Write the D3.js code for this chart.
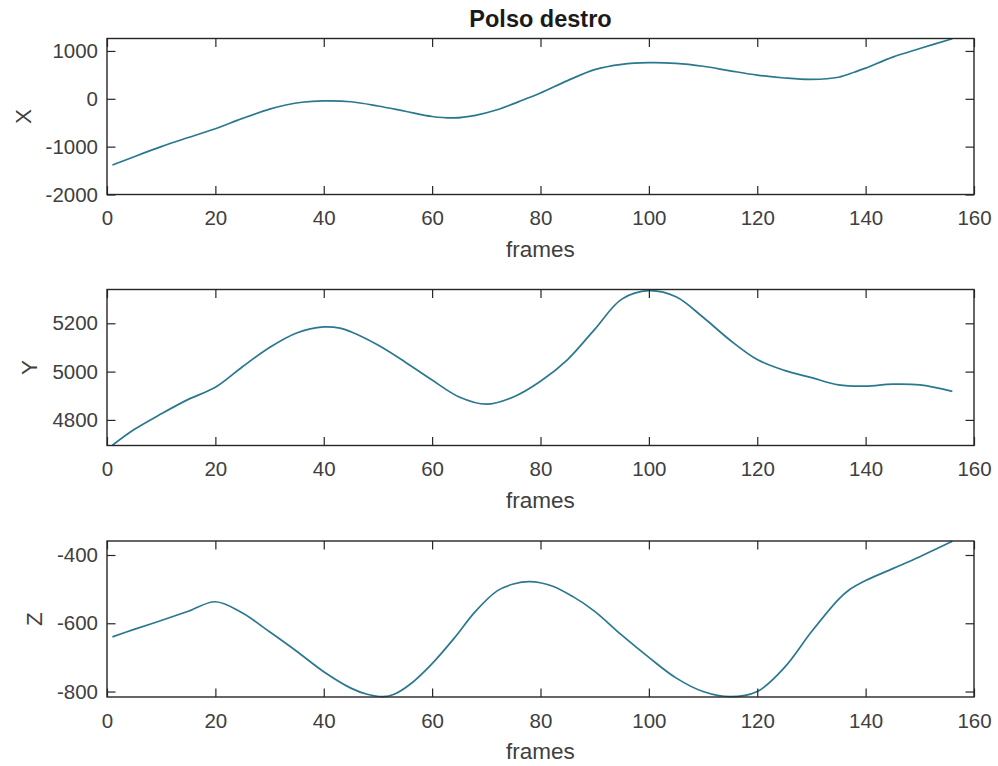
<!DOCTYPE html>
<html>
<head>
<meta charset="utf-8">
<script src="https://cdn.jsdelivr.net/npm/d3@7"></script>
<style>
    body { margin: 0; background: #fff; }
    svg { display: block; font-family: "Liberation Sans", Arial, sans-serif; }
</style>
</head>
<body>
<svg width="998" height="766"></svg>
<script>
// values
const chartTitle = "Polso destro";
const xAxisLabel = "frames";
const frameTicks = [0, 20, 40, 60, 80, 100, 120, 140, 160];

const xFrames = [1, 5, 10, 15, 20, 25, 30, 33, 36, 40, 45, 50, 55, 60, 64, 68, 72, 76, 80, 85, 90, 95, 100, 105, 110, 115, 120, 125, 130, 135, 138, 140, 145, 150, 156];
const xValues = [-1385, -1210, -1000, -810, -625, -410, -215, -130, -72, -45, -62, -150, -260, -370, -400, -345, -230, -60, 120, 380, 610, 720, 755, 740, 680, 585, 495, 435, 405, 450, 560, 640, 870, 1050, 1255];
const xTicks = [-2000, -1000, 0, 1000];

const yFrames = [1, 5, 10, 15, 20, 25, 30, 35, 40, 43, 45, 50, 55, 60, 65, 70, 75, 80, 85, 90, 95, 100, 105, 110, 115, 120, 125, 130, 135, 140, 145, 150, 156];
const yValues = [4695, 4760, 4825, 4885, 4935, 5020, 5100, 5160, 5185, 5180, 5165, 5110, 5040, 4965, 4895, 4865, 4895, 4960, 5050, 5175, 5300, 5335, 5310, 5225, 5130, 5050, 5005, 4975, 4945, 4940, 4948, 4945, 4918];
const yTicks = [4800, 5000, 5200];

const zFrames = [1, 5, 10, 15, 20, 25, 30, 35, 40, 45, 48, 51, 53, 56, 60, 64, 68, 72, 75, 78, 82, 86, 90, 95, 100, 105, 110, 115, 120, 125, 130, 135, 137, 140, 145, 150, 156];
const zValues = [-640, -618, -592, -565, -537, -570, -625, -682, -742, -790, -808, -815, -808, -778, -718, -645, -565, -505, -485, -478, -490, -522, -565, -635, -700, -760, -800, -815, -800, -730, -625, -530, -502, -475, -440, -405, -360];
const zTicks = [-800, -600, -400];

const panels = [
    { label: "X", frames: xFrames, values: xValues, ticks: xTicks, domain: [-2000, 1260] },
    { label: "Y", frames: yFrames, values: yValues, ticks: yTicks, domain: [4694, 5340] },
    { label: "Z", frames: zFrames, values: zValues, ticks: zTicks, domain: [-816, -359] },
];

// layout
const plotLeft = 107;
const plotRight = 974;
const panelTops = [38.5, 289.5, 541];
const panelHeight = 156;
const tickLen = 8.5;
const axisColor = "#262626";
const textColor = "#404040";
const lineColor = "#2a7890";

const svg = d3.select("svg");

const xScale = d3.scaleLinear().domain([0, 160]).range([plotLeft, plotRight]);

/**
 */
function drawPanel(p, i) {
    const top = panelTops[i];
    const bottom = top + panelHeight;
    const yScale = d3.scaleLinear().domain(p.domain).range([bottom, top]);
    const g = svg.append("g").attr("class", "panel");

    // clip for the series line
    svg.append("clipPath")
        .attr("id", `clip${i}`)
        .append("rect")
        .attr("x", plotLeft)
        .attr("y", top - 1)
        .attr("width", plotRight - plotLeft)
        .attr("height", panelHeight + 2);

    // series line
    const data = p.frames.map((f, k) => ({ f, v: p.values[k] }));
    const line = d3.line()
        .x((d) => xScale(d.f))
        .y((d) => yScale(d.v))
        .curve(d3.curveCatmullRom.alpha(0.5));

    g.append("path")
        .datum(data)
        .attr("clip-path", `url(#clip${i})`)
        .attr("fill", "none")
        .attr("stroke", lineColor)
        .attr("stroke-width", 1.7)
        .attr("d", line);

    // axes, ticks pointing inwards
    g.append("g")
        .attr("transform", `translate(0, ${bottom})`)
        .call(d3.axisBottom(xScale).tickValues(frameTicks).tickSizeInner(-tickLen).tickSizeOuter(0).tickPadding(16).tickFormat((d) => String(d)));
    g.append("g")
        .attr("transform", `translate(0, ${top})`)
        .call(d3.axisTop(xScale).tickValues(frameTicks).tickSizeInner(-tickLen).tickSizeOuter(0).tickFormat(""));
    const leftAxis = g.append("g")
        .attr("transform", `translate(${plotLeft}, 0)`)
        .call(d3.axisLeft(yScale).tickValues(p.ticks).tickSizeInner(-tickLen).tickSizeOuter(0).tickPadding(9).tickFormat((d) => String(d)));
    g.append("g")
        .attr("transform", `translate(${plotRight}, 0)`)
        .call(d3.axisRight(yScale).tickValues(p.ticks).tickSizeInner(-tickLen).tickSizeOuter(0).tickFormat(""));

    g.selectAll(".domain").remove();
    g.selectAll(".tick line").attr("stroke", axisColor).attr("stroke-width", 1.2);
    g.selectAll(".tick text")
        .attr("fill", textColor)
        .style("font-size", "20.5px")
        .style("font-family", "Liberation Sans, Arial, sans-serif");

    // box
    g.append("rect")
        .attr("x", plotLeft)
        .attr("y", top)
        .attr("width", plotRight - plotLeft)
        .attr("height", panelHeight)
        .attr("fill", "none")
        .attr("stroke", axisColor)
        .attr("stroke-width", 1.4);

    // x label
    g.append("text")
        .attr("x", (plotLeft + plotRight) / 2)
        .attr("y", bottom + 62)
        .attr("text-anchor", "middle")
        .attr("fill", textColor)
        .style("font-size", "22.5px")
        .text(xAxisLabel);

    // y label, placed left of the widest tick label
    const minX = d3.min(leftAxis.selectAll(".tick text").nodes(), (n) => {
        const b = n.getBBox();
        return plotLeft + b.x;
    });
    g.append("text")
        .attr("transform", `translate(${minX - 15}, ${(top + bottom) / 2}) rotate(-90)`)
        .attr("text-anchor", "middle")
        .attr("fill", textColor)
        .style("font-size", "22.5px")
        .text(p.label);
}

panels.forEach(drawPanel);

// title
svg.append("text")
    .attr("x", (plotLeft + plotRight) / 2)
    .attr("y", 27)
    .attr("text-anchor", "middle")
    .attr("fill", "#1a1a1a")
    .style("font-size", "23.5px")
    .style("font-weight", "bold")
    .text(chartTitle);
</script>
</body>
</html>
